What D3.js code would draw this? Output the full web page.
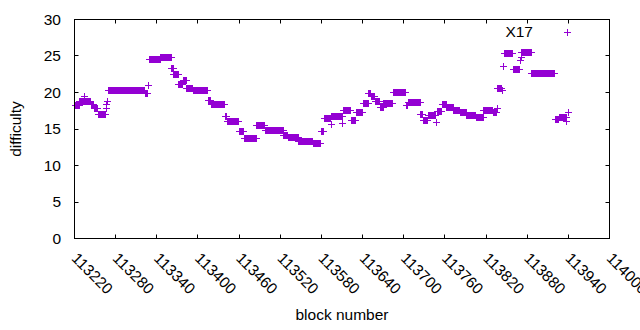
<!DOCTYPE html>
<html>
<head>
<meta charset="utf-8">
<script src="https://cdn.jsdelivr.net/npm/d3@7"></script>
<style>
  body { margin: 0; background: #fff; }
  svg { display: block; font-family: 'Liberation Sans', Arial, sans-serif; }
  .border { fill: none; stroke: #000; stroke-width: 1; }
</style>
</head>
<body>
<div class="vis"></div>
<script>
'use strict';

// difficulty, stored as runs of equal value (first block, last block, value)
var runFirst = [
  113222, 113228, 113234, 113235, 113245, 113249, 113255, 113266, 113267, 113268,
  113269, 113323, 113328, 113330, 113346, 113362, 113365, 113372, 113379, 113384,
  113393, 113415, 113420, 113440, 113443, 113460, 113468, 113486, 113498, 113525,
  113532, 113547, 113568, 113580, 113584, 113594, 113595, 113611, 113612, 113624,
  113631, 113641, 113649, 113653, 113659, 113666, 113671, 113685, 113704, 113707,
  113725, 113729, 113736, 113748, 113749, 113756, 113763, 113773, 113783, 113792,
  113806, 113817, 113831, 113836, 113837, 113844, 113845, 113847, 113860, 113870,
  113871, 113872, 113887, 113921, 113927, 113938, 113940
];
var runLast = [
  113227, 113233, 113234, 113244, 113248, 113254, 113265, 113266, 113267, 113268,
  113322, 113327, 113328, 113345, 113361, 113364, 113371, 113378, 113383, 113392,
  113414, 113419, 113439, 113442, 113459, 113467, 113485, 113497, 113524, 113531,
  113546, 113567, 113579, 113583, 113593, 113594, 113610, 113611, 113623, 113630,
  113640, 113648, 113652, 113658, 113665, 113670, 113684, 113703, 113706, 113724,
  113728, 113735, 113747, 113748, 113755, 113762, 113772, 113782, 113791, 113805,
  113816, 113830, 113835, 113836, 113843, 113844, 113846, 113859, 113869, 113870,
  113871, 113886, 113920, 113926, 113937, 113938, 113940
];
var runValue = [
  18.2, 18.8, 19.4, 18.8, 18.4, 17.8, 17.0, 17.8, 18.3, 18.7,
  20.3, 19.8, 21.0, 24.5, 24.85, 23.3, 22.4, 21.1, 21.6, 20.6,
  20.3, 18.9, 18.4, 16.7, 16.05, 14.6, 13.7, 15.5, 14.85, 14.1,
  13.8, 13.3, 12.95, 14.6, 16.4, 15.6, 16.75, 15.8, 17.6, 16.1,
  17.2, 18.5, 19.9, 19.4, 18.7, 17.9, 18.5, 20.0, 18.2, 18.6,
  17.0, 16.2, 16.9, 15.9, 17.4, 18.3, 17.9, 17.6, 17.2, 16.9,
  16.6, 17.5, 17.2, 17.8, 20.6, 20.3, 23.6, 25.35, 23.2, 24.4,
  24.8, 25.5, 22.6, 16.3, 16.6, 16.0, 17.2
];

var xTicks = [113220, 113280, 113340, 113400, 113460, 113520, 113580,
  113640, 113700, 113760, 113820, 113880, 113940, 114000];
var yTicks = [0, 5, 10, 15, 20, 25, 30];
var seriesName = 'X17';

(function () {

  var width = 640;
  var height = 330;
  var left = 74.5, right = 609.5, top = 19.5, bottom = 238.5;
  var tickLen = 4;
  var color = '#9400d3';
  var half = 3.5;

  // expand the runs to one point per block
  var points = [];
  runFirst.forEach(function (first, i) {
    for (var b = first; b <= runLast[i]; b++) {
      points.push({ block: b, value: runValue[i] });
    }
  });

  var x = d3.scaleLinear().domain([113220, 114000]).range([left, right]);
  var y = d3.scaleLinear().domain([0, 30]).range([bottom, top]);

  var svg = d3.select('.vis').append('svg')
    .attr('width', width)
    .attr('height', height);

  // plus symbol, like gnuplot point type 1 (snapped to pixel centres)
  function plus(px, py) {
    px = Math.round(px - 0.5) + 0.5;
    py = Math.round(py - 0.5) + 0.5;
    return 'M' + (px - half) + ',' + py + 'H' + (px + half) +
      'M' + px + ',' + (py - half) + 'V' + (py + half);
  }

  svg.append('g')
    .selectAll('path')
    .data(points)
    .enter()
    .append('path')
    .attr('d', function (d) { return plus(x(d.block), y(d.value)); })
    .attr('stroke', color)
    .attr('stroke-width', 1)
    .attr('fill', 'none');

  // ticks on all four sides, pointing inwards
  var ticks = svg.append('g').attr('stroke', '#000').attr('stroke-width', 1);
  xTicks.forEach(function (t) {
    var px = Math.round(x(t) - 0.5) + 0.5;
    ticks.append('line').attr('x1', px).attr('x2', px).attr('y1', bottom).attr('y2', bottom - tickLen);
    ticks.append('line').attr('x1', px).attr('x2', px).attr('y1', top).attr('y2', top + tickLen);
  });
  yTicks.forEach(function (t) {
    var py = Math.round(y(t) - 0.5) + 0.5;
    ticks.append('line').attr('x1', left).attr('x2', left + tickLen).attr('y1', py).attr('y2', py);
    ticks.append('line').attr('x1', right).attr('x2', right - tickLen).attr('y1', py).attr('y2', py);
  });

  svg.append('rect')
    .attr('class', 'border')
    .attr('x', left).attr('y', top)
    .attr('width', right - left).attr('height', bottom - top);

  // tick labels
  svg.append('g')
    .selectAll('text')
    .data(yTicks)
    .enter()
    .append('text')
    .attr('x', 61)
    .attr('y', function (d) { return y(d); })
    .attr('dy', '0.35em')
    .attr('text-anchor', 'end')
    .attr('font-size', 15.5)
    .text(function (d) { return d; });

  svg.append('g')
    .selectAll('text')
    .data(xTicks)
    .enter()
    .append('text')
    .attr('transform', function (d) { return 'translate(' + x(d) + ',' + (bottom + 17) + ') rotate(45)'; })
    .attr('dy', '0.35em')
    .attr('font-size', 15.5)
    .text(function (d) { return d; });

  // axis titles
  svg.append('text')
    .attr('x', (left + right) / 2)
    .attr('y', 320)
    .attr('text-anchor', 'middle')
    .attr('font-size', 15.5)
    .text('block number');

  svg.append('text')
    .attr('transform', 'translate(21,129) rotate(-90)')
    .attr('text-anchor', 'middle')
    .attr('font-size', 15.5)
    .text('difficulty');

  // key
  svg.append('text')
    .attr('x', 533)
    .attr('y', 37)
    .attr('text-anchor', 'end')
    .attr('font-size', 15.5)
    .text(seriesName);

  svg.append('path')
    .attr('d', plus(567.5, 32.5))
    .attr('stroke', color)
    .attr('stroke-width', 1)
    .attr('fill', 'none');

})();
</script>
</body>
</html>
